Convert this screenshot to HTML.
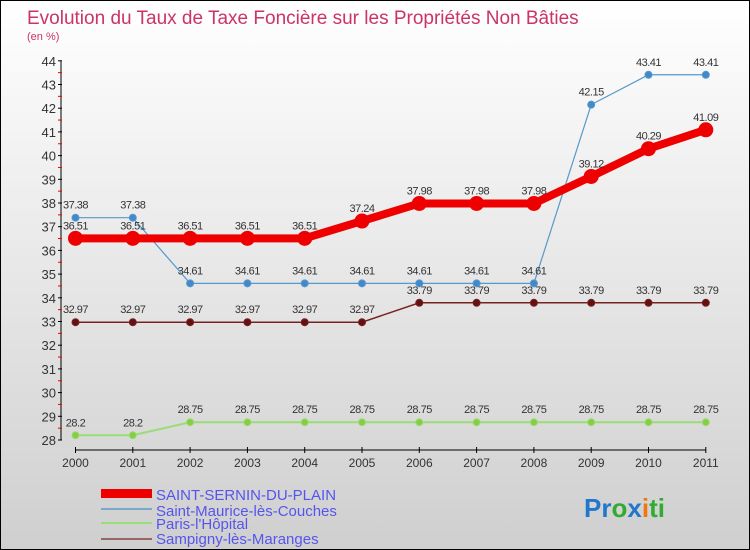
<!DOCTYPE html>
<html><head><meta charset="utf-8"><style>
body{margin:0}
#c{position:relative;width:748px;height:548px;border:1px solid #000;background:linear-gradient(#fff,#cfcfcf);font-family:"Liberation Sans",sans-serif;overflow:hidden}
svg text{font-family:"Liberation Sans",sans-serif}
</style></head><body>
<div id="c">
<svg id="s" width="748" height="548">
<text x="26" y="23" font-size="19" fill="#cc3366">Evolution du Taux de Taxe Foncière sur les Propriétés Non Bâties</text>
<text x="26" y="39" font-size="11" fill="#cc3366">(en %)</text>
<g id="g"></g>
<g>
<rect x="100" y="488" width="51" height="9" fill="#ee0000"/>
<text x="155" y="499" font-size="15" fill="#5555ee">SAINT-SERNIN-DU-PLAIN</text>
<rect x="100" y="507" width="51" height="2" fill="#7aa9cc"/>
<text x="155" y="515" font-size="15" fill="#5555ee">Saint-Maurice-lès-Couches</text>
<rect x="100" y="521" width="51" height="2" fill="#99dd77"/>
<text x="155" y="528" font-size="15" fill="#5555ee">Paris-l'Hôpital</text>
<rect x="100" y="537" width="51" height="2" fill="#996666"/>
<text x="155" y="543" font-size="15" fill="#5555ee">Sampigny-lès-Maranges</text>
</g>
<text x="583" y="516" font-size="26" font-weight="bold"><tspan fill="#2277cc">Pr</tspan><tspan fill="#33aa33">o</tspan><tspan fill="#2277cc">x</tspan><tspan fill="#ee7711">i</tspan><tspan fill="#33aa33">ti</tspan></text>
</svg>
</div>
<script>
const years=[2000,2001,2002,2003,2004,2005,2006,2007,2008,2009,2010,2011];
const yTicks=[28,29,30,31,32,33,34,35,36,37,38,39,40,41,42,43,44];
const saintSernin=[36.51,36.51,36.51,36.51,36.51,37.24,37.98,37.98,37.98,39.12,40.29,41.09];
const saintMaurice=[37.38,37.38,34.61,34.61,34.61,34.61,34.61,34.61,34.61,42.15,43.41,43.41];
const parisHopital=[28.2,28.2,28.75,28.75,28.75,28.75,28.75,28.75,28.75,28.75,28.75,28.75];
const sampigny=[32.97,32.97,32.97,32.97,32.97,32.97,33.79,33.79,33.79,33.79,33.79,33.79];
const NS="http://www.w3.org/2000/svg";
const g=document.getElementById('g');
const xS=i=>74.5+i*57.3;
const yS=v=>439-(v-28)*23.7;
function mk(t,a){const e=document.createElementNS(NS,t);for(const k in a)e.setAttribute(k,a[k]);g.appendChild(e);return e;}
let e=mk('line',{x1:60,y1:yS(44),x2:60,y2:yS(28),stroke:'#000'});


e=mk('line',{x1:xS(0),y1:449,x2:xS(11),y2:449,stroke:'#000'});


yTicks.forEach(v=>{
 mk('line',{x1:57,y1:yS(v),x2:61,y2:yS(v),stroke:'#000'});
 if(v<44){const m=mk('line',{x1:57,y1:yS(v+0.5),x2:61,y2:yS(v+0.5),stroke:'#e00'});}
 const t=mk('text',{x:55,y:yS(v)+5,'text-anchor':'end','font-size':13,fill:'#333'});
 t.textContent=v;
 
 
});
years.forEach((y,i)=>{
 mk('line',{x1:xS(i),y1:446,x2:xS(i),y2:452,stroke:'#000'});
 const t=mk('text',{x:xS(i),y:466,'text-anchor':'middle','font-size':12,fill:'#333'});
 t.textContent=y;
 
 
});
function series(vals,color,dot,w,r,name){
 const p=mk('polyline',{points:vals.map((v,i)=>xS(i)+','+yS(v)).join(' '),fill:'none',stroke:color,'stroke-width':w});
 
 
 vals.forEach((v,i)=>{
  const c=mk('circle',{cx:xS(i),cy:yS(v),r:r,fill:dot,stroke:color,'stroke-width':1});
  
  
  const t=mk('text',{x:xS(i),y:yS(v)-9,'text-anchor':'middle','font-size':11,fill:'#333','letter-spacing':'-0.5'});
  t.textContent=v;
  
  
 });
}
series(parisHopital,'#99dd77','#88cc44',2,3.5,'paris-l-hopital');
series(sampigny,'#772222','#661111',1.5,3.5,'sampigny');
series(saintMaurice,'#5599cc','#4488cc',1.2,3.5,'saint-maurice');
series(saintSernin,'#ee0000','#ee0000',8,7,'saint-sernin');
</script>
</body></html>
